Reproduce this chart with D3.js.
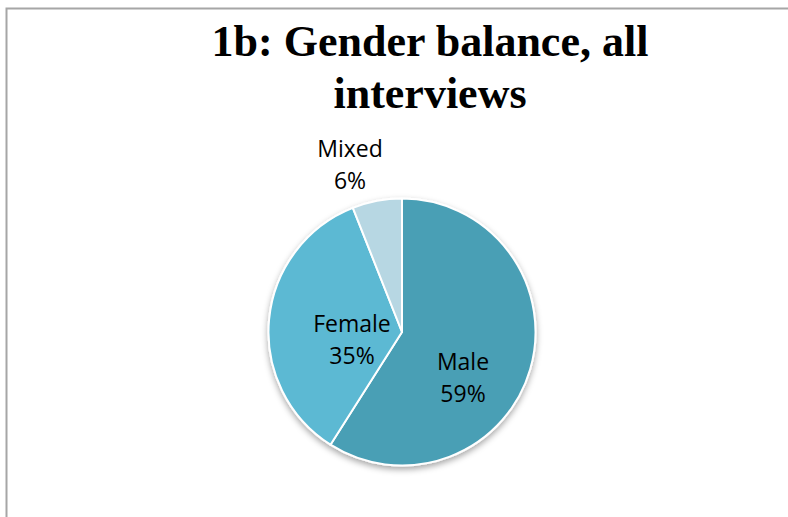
<!DOCTYPE html>
<html>
<head>
<meta charset="utf-8">
<script src="https://cdn.jsdelivr.net/npm/d3@7"></script>
<style>
  html, body { margin: 0; padding: 0; background: #fff; }
  svg { display: block; }
</style>
</head>
<body>
<svg id="chart" width="788" height="517"></svg>
<script>
const categories = ["Male", "Female", "Mixed"];
const values = [59, 35, 6];
const labels = ["59%", "35%", "6%"];
const colors = ["#4A9FB5", "#5BB9D3", "#B7D7E3"];
const titleLines = ["1b: Gender balance, all", "interviews"];

const W = 788, H = 517;
const cx = 402, cy = 332, R = 133.5;
// label anchor offsets (layout, relative to pie centre)
const labelPos = [[61, 46], [-50, 8], [-52, -167]];

const svg = d3.select("#chart");

const defs = svg.append("defs");
const f = defs.append("filter").attr("id", "shadow")
  .attr("x", "-20%").attr("y", "-20%").attr("width", "140%").attr("height", "140%");
f.append("feDropShadow").attr("dx", 0).attr("dy", 3).attr("stdDeviation", 3)
  .attr("flood-color", "#000").attr("flood-opacity", 0.35);

// frame
svg.append("rect").attr("x", 6.5).attr("y", 8.5).attr("width", W + 20).attr("height", H + 20)
  .attr("fill", "#fff").attr("stroke", "#a6a6a6").attr("stroke-width", 2);

// title
const title = svg.append("text")
  .attr("text-anchor", "middle")
  .attr("font-family", "'Liberation Serif', 'DejaVu Serif', serif")
  .attr("font-weight", "bold").attr("font-size", 44).attr("fill", "#000");
titleLines.forEach((t, i) => {
  title.append("tspan").attr("x", 430).attr("y", 56 + i * 52).text(t);
});

const data = categories.map((c, i) => ({ cat: c, value: values[i], label: labels[i], color: colors[i] }));
const pie = d3.pie().value(d => d.value).sort(null);
const arc = d3.arc().innerRadius(0).outerRadius(R);
const arcs = pie(data);

const g = svg.append("g").attr("transform", `translate(${cx},${cy})`);
g.append("g").attr("filter", "url(#shadow)")
  .selectAll("path").data(arcs).join("path")
  .attr("d", arc)
  .attr("fill", d => d.data.color)
  .attr("stroke", "#fff").attr("stroke-width", 2).attr("stroke-linejoin", "round");

const lab = g.selectAll("text.lab").data(arcs).join("text")
  .attr("class", "lab")
  .attr("text-anchor", "middle")
  .attr("font-family", "'Open Sans', sans-serif")
  .attr("font-size", 23).attr("fill", "#000");
lab.each(function(d, i) {
  const [x, y] = labelPos[i];
  const t = d3.select(this);
  t.append("tspan").attr("x", x).attr("y", y - 16 + 8).text(d.data.cat);
  t.append("tspan").attr("x", x).attr("y", y + 16 + 8).text(d.data.label);
});
</script>
</body>
</html>
